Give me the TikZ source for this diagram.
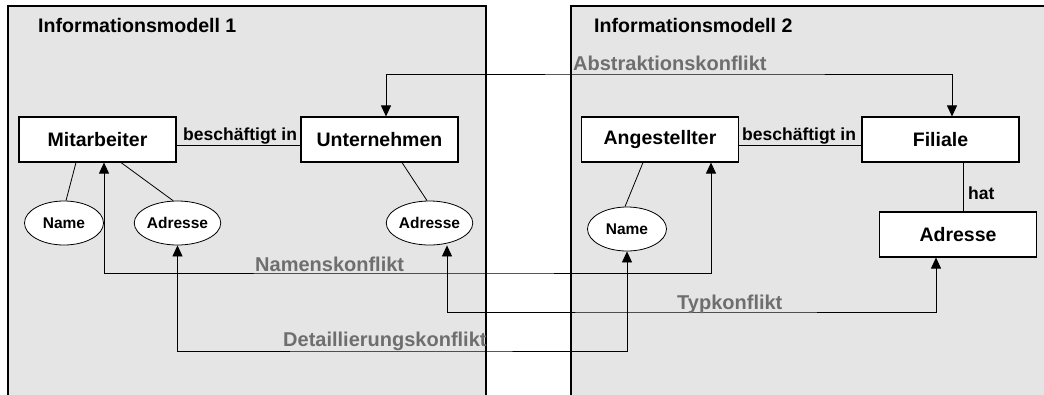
\documentclass[tikz,border=0pt]{standalone}
\usepackage{fontspec}
\setmainfont{Liberation Sans}
\usetikzlibrary{arrows.meta,shapes.geometric,calc}
\definecolor{panelgray}{HTML}{E5E5E5}
\definecolor{labelgray}{HTML}{6E6E6E}
\begin{document}
\begin{tikzpicture}[x=1pt,y=-1pt,
  panel/.style={draw=black,line width=1.1pt,fill=panelgray},
  entity/.style={draw=black,line width=1.1pt,fill=white,minimum width=157pt,minimum height=45pt,inner sep=0pt,font=\fontsize{19.5}{22}\selectfont\bfseries},
  attr/.style={ellipse,draw=black,line width=0.8pt,fill=white,minimum width=79pt,minimum height=44pt,inner sep=0pt,font=\fontsize{15.5}{18}\selectfont\bfseries},
  heading/.style={anchor=base west,inner sep=0pt,font=\fontsize{19.6}{22}\selectfont\bfseries},
  rel/.style={anchor=base west,inner sep=0pt,font=\fontsize{17.5}{20}\selectfont\bfseries},
  conflict/.style={anchor=base west,inner sep=0pt,text=labelgray,font=\fontsize{20}{23}\selectfont\bfseries},
  conn/.style={draw=black,line width=0.8pt},
  darr/.style={conn,{Triangle[length=11pt,width=10pt]}-{Triangle[length=11pt,width=10pt]}}
]
\useasboundingbox (0,0) rectangle (1044,394);
% panels
\fill[panelgray] (8,6) rectangle (486,400);
\draw[line width=1.1pt] (8,400) -- (8,6) -- (486,6) -- (486,400);
\fill[panelgray] (571,6) rectangle (1050,400);
\draw[line width=1.1pt] (571,400) -- (571,6) -- (1050,6);
\node[heading] (h1) at (38,32) {Informationsmodell 1};
\node[heading] (h2) at (594,32) {Informationsmodell 2};

% coordinates for connector bends
\coordinate (absbend) at (700,74);
\coordinate (nambend) at (400,273);
\coordinate (typbend) at (700,312);
\coordinate (detbend) at (400,351);

% entities
\node[entity] (mit) at (97.5,139.5) {Mitarbeiter};
\node[entity] (unt) at (379.5,139.5) {Unternehmen};
\node[entity] (ang) at (660,139.5) {Angestellter};
\node[entity] (fil) at (940.5,139.5) {Filiale};
\node[entity] (adrbox) at (958,234.5) {Adresse};

% attributes
\node[attr] (name1) at (64,223) {Name};
\node[attr] (adr1) at (177.5,223) {Adresse};
\node[attr] (adr2) at (429.5,223) {Adresse};
\node[attr] (name2) at (627,229) {Name};

% relationships
\draw[conn] ([yshift=-5.5pt]mit.east) -- ([yshift=-5.5pt]unt.west);
\draw[conn] ([yshift=-5.5pt]ang.east) -- ([yshift=-5.5pt]fil.west);
\node[rel] (rel1) at (183,140) {beschäftigt in};
\node[rel] (rel2) at (742,140) {beschäftigt in};
\draw[conn] ([xshift=22.5pt]fil.south) -- ([xshift=22.5pt]fil.south |- adrbox.north);
\node[rel] (hat) at (968,199) {hat};

% attribute lines
\draw[conn] ([xshift=-21.5pt]mit.south) -- ([xshift=2pt]name1.north);
\draw[conn] ([xshift=23.5pt]mit.south) -- ([xshift=-4.5pt]adr1.north);
\draw[conn] ([xshift=22.5pt]unt.south) -- ([xshift=-2.5pt]adr2.north);
\draw[conn] ([xshift=-17pt]ang.south) -- ([xshift=-2pt]name2.north);

% conflicts
\draw[darr] ([xshift=6.5pt]unt.north) |- (absbend) -| ([xshift=11.5pt]fil.north);
\draw[darr] ([xshift=6.5pt]mit.south) |- (nambend) -| ([xshift=51pt]ang.south);
\draw[darr] ([xshift=17.5pt]adr2.south) |- (typbend) -| ([xshift=-22pt]adrbox.south);
\draw[darr] (adr1.south) |- (detbend) -| (name2.south);

\node[conflict] (abs) at (573,70) {Abstraktionskonflikt};
\node[conflict] (nam) at (255,271) {Namenskonflikt};
\node[conflict] (typ) at (677,309) {Typkonflikt};
\node[conflict] (det) at (283,346) {Detaillierungskonflikt};
\end{tikzpicture}
\end{document}
